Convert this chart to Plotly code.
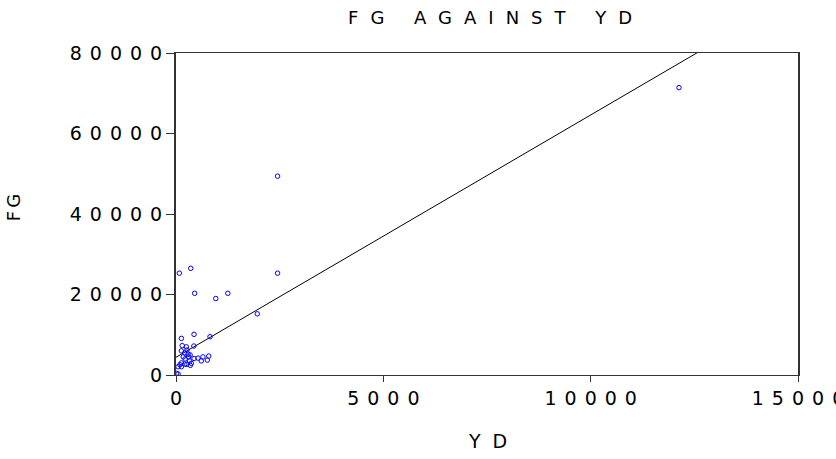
import numpy as np
import plotly.graph_objects as go

# Observations: YD (x) and FG (y)
yd = [12130, 2450, 2450, 80, 355, 450, 1250, 960, 1960, 435,
      130, 820, 150, 250, 430, 130, 210, 290, 340, 175,
      305, 435, 530, 650, 790, 755, 610, 330, 130, 210,
      95, 260, 370, 50, 130, 345, 10, 50, 220, 265]
fg = [71400, 49400, 25300, 25300, 26500, 20300, 20300, 19000, 15200, 10100,
      9100, 9500, 7300, 7000, 7200, 6000, 5500, 5200, 5000, 4500,
      4500, 4100, 4200, 4500, 4700, 3700, 3500, 3500, 3000, 2700,
      2550, 2650, 2900, 2050, 2050, 2400, 400, 250, 4000, 6200]

# Fitted regression line FG = a + b * YD
fit_intercept = 4400
fit_slope = 6.02

x_ticks = [0, 5000, 10000, 15000]
y_ticks = [0, 20000, 40000, 60000, 80000]

FONT = "DejaVu Sans, Arial, sans-serif"


def spaced(text, ls=8):
    # widen the lettering; the final glyph carries no trailing gap
    if len(text) < 2:
        return text
    return f'<span style="letter-spacing:{ls}px">{text[:-1]}</span>{text[-1]}'


fit_x = np.array([0, 15000])
fit_y = fit_intercept + fit_slope * fit_x

fig = go.Figure()
fig.add_trace(go.Scatter(
    x=fit_x, y=fit_y, mode="lines",
    line=dict(color="black", width=1), showlegend=False, hoverinfo="skip",
))
fig.add_trace(go.Scatter(
    x=yd, y=fg, mode="markers",
    marker=dict(symbol="circle-open", size=4.5, color="#0000ff",
                line=dict(color="#0000ff", width=1)),
    showlegend=False,
))

fig.update_layout(
    width=836, height=459,
    margin=dict(l=176, r=38, t=53, b=84, autoexpand=False),
    paper_bgcolor="white", plot_bgcolor="white",
    font=dict(family=FONT, size=19, color="black"),
    title=dict(text=spaced("FG AGAINST YD", 12), x=0.505, xref="paper",
               xanchor="center", y=1 - 18 / 459, yanchor="middle",
               font=dict(family=FONT, size=18, color="black")),
    xaxis=dict(range=[0, 15000], tickvals=x_ticks,
               ticktext=[spaced(str(v)) for v in x_ticks],
               ticks="outside", ticklen=6, tickcolor="#333", tickwidth=1,
               ticklabeloverflow="allow", automargin=False,
               showline=True, mirror=True, linecolor="#333", linewidth=1,
               showgrid=False, zeroline=False),
    yaxis=dict(range=[0, 80000], tickvals=y_ticks,
               ticktext=[spaced(str(v)) for v in y_ticks],
               ticks="outside", ticklen=8, tickcolor="#333", tickwidth=1,
               automargin=False,
               showline=True, mirror=True, linecolor="#333", linewidth=2,
               showgrid=False, zeroline=False),
    annotations=[
        dict(text=spaced("YD", 12), x=0.5, y=-0.205, xref="paper", yref="paper",
             showarrow=False, xanchor="center", yanchor="middle",
             font=dict(family=FONT, size=19)),
        dict(text=spaced("FG", 3), x=-0.26, y=0.519, xref="paper", yref="paper",
             showarrow=False, textangle=-90, xanchor="center", yanchor="middle",
             font=dict(family=FONT, size=18)),
    ],
)

fig.write_html("out.html")
